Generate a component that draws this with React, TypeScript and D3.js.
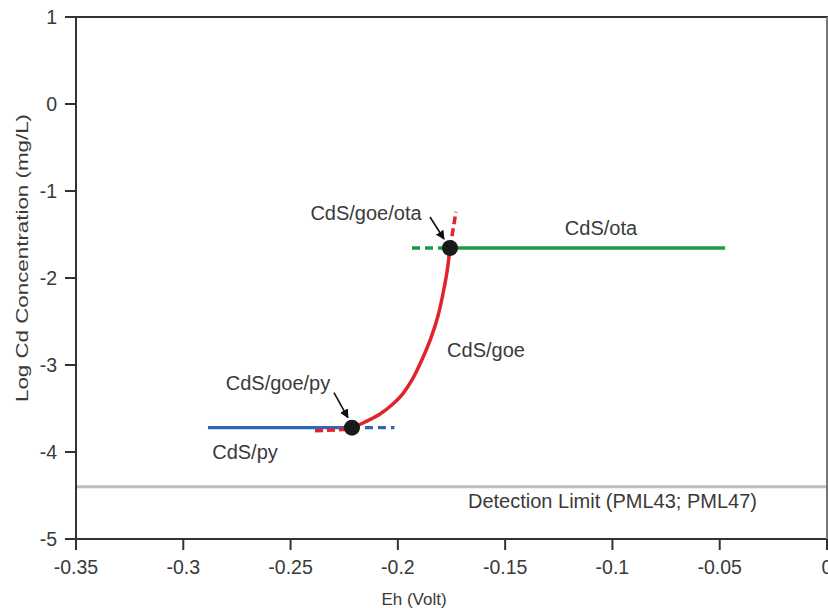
import React from "react";
import * as d3 from "d3";

const xTicks = [-0.35, -0.3, -0.25, -0.2, -0.15, -0.1, -0.05, 0];
const xTickLabels = ["-0.35", "-0.3", "-0.25", "-0.2", "-0.15", "-0.1", "-0.05", "0"];
const yTicks = [1, 0, -1, -2, -3, -4, -5];
const yTickLabels = ["1", "0", "-1", "-2", "-3", "-4", "-5"];

// CdS/py boundary (blue)
const pyEh = [-0.2885, -0.2214];
const pyLog = [-3.72, -3.72];
const pyDashEh = [-0.2214, -0.2016];
const pyDashLog = [-3.72, -3.72];

// CdS/goe boundary (red)
const goeEh = [-0.2214, -0.2153, -0.2083, -0.2023, -0.1976, -0.1934, -0.1897, -0.1846, -0.1813, -0.179, -0.1771, -0.1757];
const goeLog = [-3.72, -3.655, -3.563, -3.448, -3.328, -3.172, -2.989, -2.69, -2.437, -2.184, -1.931, -1.655];
const goeDashLowEh = [-0.2386, -0.2214];
const goeDashLowLog = [-3.757, -3.737];
const goeDashHighEh = [-0.1757, -0.1729];
const goeDashHighLog = [-1.655, -1.238];

// CdS/ota boundary (green)
const otaEh = [-0.1757, -0.0475];
const otaLog = [-1.655, -1.655];
const otaDashEh = [-0.1934, -0.1757];
const otaDashLog = [-1.655, -1.655];

// Triple points
const tripleEh = [-0.2214, -0.1757];
const tripleLog = [-3.72, -1.655];

const detectionLimit = -4.4;

const W = 828;
const H = 608;
const margin = { left: 76, right: 1, top: 17, bottom: 69 };

const FONT = "Liberation Sans, Arial, Helvetica, sans-serif";
const TXT = "#3a3a3a";

export default function App() {
  const x = d3.scaleLinear().domain([-0.35, 0]).range([margin.left, W - margin.right]);
  const y = d3.scaleLinear().domain([-5, 1]).range([H - margin.bottom, margin.top]);

  const toPts = (xs: number[], ys: number[]) => xs.map((v, i) => [v, ys[i]] as [number, number]);
  const straight = d3.line<[number, number]>().x((d) => x(d[0])).y((d) => y(d[1]));
  const smooth = d3
    .line<[number, number]>()
    .x((d) => x(d[0]))
    .y((d) => y(d[1]))
    .curve(d3.curveCatmullRom.alpha(0.5));

  const blue = "#2e68b4";
  const red = "#e3232b";
  const green = "#1f9a48";

  const x0 = x(-0.35);
  const x1 = x(0);
  const yTop = y(1);
  const yBot = y(-5);

  return (
    <svg width={W} height={H} style={{ position: "absolute", left: 0, top: 0, background: "#fff" }}>
      <defs>
        <marker id="arr" viewBox="0 0 10 10" refX="9" refY="5" markerWidth="9" markerHeight="9" markerUnits="userSpaceOnUse" orient="auto">
          <path d="M0,0 L10,5 L0,10 z" fill="#111" />
        </marker>
      </defs>

      {/* detection limit */}
      <line x1={x0} x2={x1} y1={y(detectionLimit)} y2={y(detectionLimit)} stroke="#bdbdbd" strokeWidth={3} />

      {/* blue */}
      <path d={straight(toPts(pyEh, pyLog)) || ""} fill="none" stroke={blue} strokeWidth={3.2} />
      <path d={straight(toPts(pyDashEh, pyDashLog)) || ""} fill="none" stroke={blue} strokeWidth={3.2} strokeDasharray="8,5" />

      {/* red */}
      <path d={straight(toPts(goeDashLowEh, goeDashLowLog)) || ""} fill="none" stroke={red} strokeWidth={3.5} strokeDasharray="8,4" />
      <path d={smooth(toPts(goeEh, goeLog)) || ""} fill="none" stroke={red} strokeWidth={3.5} />
      <path d={straight(toPts(goeDashHighEh, goeDashHighLog)) || ""} fill="none" stroke={red} strokeWidth={3.5} strokeDasharray="8,4" />

      {/* green */}
      <path d={straight(toPts(otaDashEh, otaDashLog)) || ""} fill="none" stroke={green} strokeWidth={3.5} strokeDasharray="8,5" />
      <path d={straight(toPts(otaEh, otaLog)) || ""} fill="none" stroke={green} strokeWidth={3.5} />

      {/* triple points */}
      {tripleEh.map((e, i) => (
        <circle key={i} cx={x(e)} cy={y(tripleLog[i])} r={8} fill="#1a1a1a" />
      ))}

      {/* arrows */}
      <line x1={x(tripleEh[0]) - 18} y1={y(tripleLog[0]) - 35} x2={x(tripleEh[0]) - 4} y2={y(tripleLog[0]) - 10} stroke="#111" strokeWidth={1.6} markerEnd="url(#arr)" />
      <line x1={x(tripleEh[1]) - 20} y1={y(tripleLog[1]) - 31} x2={x(tripleEh[1]) - 6} y2={y(tripleLog[1]) - 9} stroke="#111" strokeWidth={1.6} markerEnd="url(#arr)" />

      {/* labels */}
      <g fontFamily={FONT} fontSize={20} fill={TXT}>
        <text x={601} y={235} textAnchor="middle">CdS/ota</text>
        <text x={486} y={357} textAnchor="middle">CdS/goe</text>
        <text x={278} y={390} textAnchor="middle">CdS/goe/py</text>
        <text x={245} y={459} textAnchor="middle">CdS/py</text>
        <text x={366} y={220} textAnchor="middle">CdS/goe/ota</text>
        <text x={468} y={508}>Detection Limit (PML43; PML47)</text>
      </g>

      {/* frame */}
      <rect x={x0} y={yTop} width={x1 - x0} height={yBot - yTop} fill="none" stroke="#333" strokeWidth={2} />
      <line x1={x1} x2={x1} y1={yTop} y2={yBot} stroke="#777" strokeWidth={2} />

      {/* x ticks */}
      {xTicks.map((t, i) => (
        <g key={"x" + i}>
          <line x1={x(t)} x2={x(t)} y1={yBot} y2={yBot + 11} stroke="#333" strokeWidth={2} />
          <text x={x(t)} y={yBot + 35} textAnchor="middle" fontFamily={FONT} fontSize={19.5} fill={TXT}>
            {xTickLabels[i]}
          </text>
        </g>
      ))}

      {/* y ticks */}
      {yTicks.map((t, i) => (
        <g key={"y" + i}>
          <line x1={x0 - 11} x2={x0} y1={y(t)} y2={y(t)} stroke="#333" strokeWidth={2} />
          <text x={x0 - 19} y={y(t) + 7} textAnchor="end" fontFamily={FONT} fontSize={19.5} fill={TXT}>
            {yTickLabels[i]}
          </text>
        </g>
      ))}

      {/* axis titles */}
      <text x={414} y={605} textAnchor="middle" fontFamily={FONT} fontSize={17} fill={TXT}>
        Eh (Volt)
      </text>
      <text
        transform={`translate(28,258) rotate(-90)`}
        textAnchor="middle"
        fontFamily={FONT}
        fontSize={17}
        fill={TXT}
        textLength={288}
        lengthAdjust="spacingAndGlyphs"
      >
        Log Cd Concentration (mg/L)
      </text>
    </svg>
  );
}
